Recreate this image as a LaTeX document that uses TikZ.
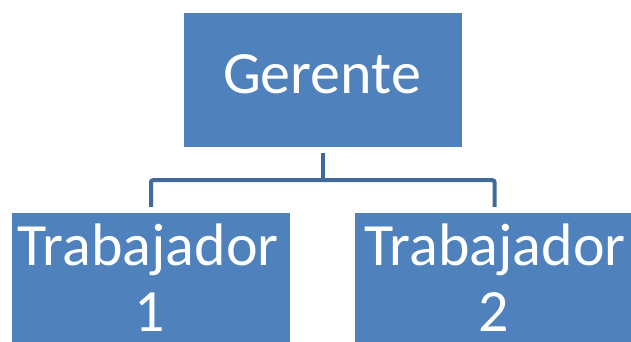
\documentclass[tikz,border=0pt]{standalone}
\usepackage{fontspec}
\setmainfont{Carlito}
\definecolor{boxblue}{HTML}{4F81BD}
\definecolor{linkblue}{HTML}{41699A}
\begin{document}
\begin{tikzpicture}[x=1pt,y=1pt,
  box/.style={draw=none, fill=boxblue, minimum width=278.5pt, minimum height=134pt, inner sep=0pt},
  lbl/.style={anchor=base, text=white, font=\fontsize{60}{67}\selectfont, inner sep=0pt},
  conn/.style={draw=linkblue, line width=4pt}]
\useasboundingbox (0,0) rectangle (631,-341);
\node[box] (g) at (322.75,-80) {};
\node[box] (w1) at (151,-280) {};
\node[box] (w2) at (494.5,-280) {};
\node[lbl] (tg) at (322,-93.3) {Gerente};
\node[lbl] (t1a) at (148,-265) {Trabajador};
\node[lbl] (t1b) at (150,-331.7) {1};
\node[lbl] (t2a) at (495,-265) {Trabajador};
\node[lbl] (t2b) at (494,-331.7) {2};
\draw[conn] ([yshift=-6pt]g.south) -- ++(0,-27) coordinate (j);
\draw[conn, rounded corners=2pt] ([yshift=6pt]w1.north) |- (j) -| ([yshift=6pt]w2.north);
\end{tikzpicture}
\end{document}
